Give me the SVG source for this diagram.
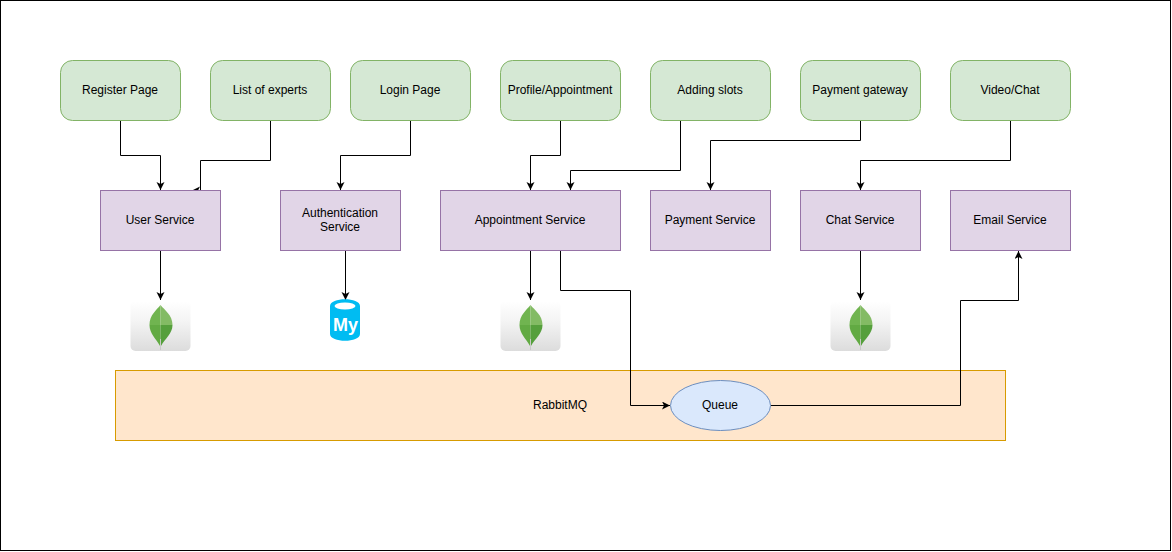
<svg xmlns="http://www.w3.org/2000/svg" width="1172" height="552" viewBox="0 0 1172 552">
<style>
text{font-family:"Liberation Sans",Arial,Helvetica,sans-serif;font-size:12px;fill:#000;text-anchor:middle}
.page{fill:#fff;stroke:#000;stroke-width:1}
.ui{fill:#d5e8d4;stroke:#82b366;stroke-width:1}
.svc{fill:#e1d5e7;stroke:#9673a6;stroke-width:1}
.wire{fill:none;stroke:#000;stroke-width:1;marker-end:url(#arrow)}
</style>
<defs>
<marker id="arrow" markerUnits="userSpaceOnUse" markerWidth="10" markerHeight="10" refX="8" refY="4" orient="auto">
<path d="M0 0L8 4L0 8L2 4Z" fill="#000"/>
</marker>
<linearGradient id="tile" x1="0" y1="0" x2="0" y2="1"><stop offset="0" stop-color="#ffffff"/><stop offset="0.4" stop-color="#f4f4f4"/><stop offset="1" stop-color="#dcdcdc"/></linearGradient>
<g id="mongo">
<rect x="0" y="0" width="60" height="50" rx="5" fill="url(#tile)"/>
<path d="M30 4C26 9 19 14 19 24H30Z" fill="#70b450"/>
<path d="M30 4C34 9 42 14 42 24H30Z" fill="#83bb64"/>
<path d="M19 24C19 33 26 38 29.500 45H30V24Z" fill="#62aa43"/>
<path d="M42 24C42 33 34 38 30.500 45H30V24Z" fill="#559f3c"/>
<path d="M29.500 38H30.500L30.500 49H29.500Z" fill="#c8c8c8"/>
</g>
</defs>
<rect class="page" x="0.500" y="0.500" width="1170" height="550"/>
<g id="rabbitmq"><rect x="115.500" y="370.500" width="890" height="70" fill="#ffe6cc" stroke="#d79b00"/><text x="560" y="409">RabbitMQ</text></g>
<g id="connectors">
<path class="wire" d="M120.500 120.500V155.500H160.500V190"/>
<path class="wire" d="M270.500 120.500V160.500H200.500V190.500H192"/>
<path class="wire" d="M410.500 120.500V155.500H340.500V190"/>
<path class="wire" d="M560.500 120.500V155.500H530.500V190"/>
<path class="wire" d="M680.500 120.500V170.500H570.500V190"/>
<path class="wire" d="M860.500 120.500V140.500H710.500V190"/>
<path class="wire" d="M1010.500 120.500V160.500H860.500V190"/>
<path class="wire" d="M160.500 250.500V300"/>
<path class="wire" d="M345.500 250.500V300"/>
<path class="wire" d="M530.500 250.500V300"/>
<path class="wire" d="M860.500 250.500V300"/>
<path class="wire" d="M560.500 250.500V290.500H630.500V405.500H670"/>
<path class="wire" d="M770.500 405.500H960.500V300.500H1018.500V251"/>
</g>
<g id="register-page"><rect class="ui" x="60.500" y="60.500" width="120" height="60" rx="12"/><text x="120" y="94">Register Page</text></g>
<g id="list-of-experts"><rect class="ui" x="210.500" y="60.500" width="120" height="60" rx="12"/><text x="270" y="94">List of experts</text></g>
<g id="login-page"><rect class="ui" x="350.500" y="60.500" width="120" height="60" rx="12"/><text x="410" y="94">Login Page</text></g>
<g id="profile-appointment"><rect class="ui" x="500.500" y="60.500" width="120" height="60" rx="12"/><text x="560" y="94">Profile/Appointment</text></g>
<g id="adding-slots"><rect class="ui" x="650.500" y="60.500" width="120" height="60" rx="12"/><text x="710" y="94">Adding slots</text></g>
<g id="payment-gateway"><rect class="ui" x="800.500" y="60.500" width="120" height="60" rx="12"/><text x="860" y="94">Payment gateway</text></g>
<g id="video-chat"><rect class="ui" x="950.500" y="60.500" width="120" height="60" rx="12"/><text x="1010" y="94">Video/Chat</text></g>
<g id="user-service"><rect class="svc" x="100.500" y="190.500" width="120" height="60"/><text x="160" y="224">User Service</text></g>
<g id="authentication-service"><rect class="svc" x="280.500" y="190.500" width="120" height="60"/><text x="340" y="217">Authentication</text><text x="340" y="231">Service</text></g>
<g id="appointment-service"><rect class="svc" x="440.500" y="190.500" width="180" height="60"/><text x="530" y="224">Appointment Service</text></g>
<g id="payment-service"><rect class="svc" x="650.500" y="190.500" width="120" height="60"/><text x="710" y="224">Payment Service</text></g>
<g id="chat-service"><rect class="svc" x="800.500" y="190.500" width="120" height="60"/><text x="860" y="224">Chat Service</text></g>
<g id="email-service"><rect class="svc" x="950.500" y="190.500" width="120" height="60"/><text x="1010" y="224">Email Service</text></g>
<g id="mongo-user"><use href="#mongo" x="130.500" y="301"/></g>
<g id="mongo-appointment"><use href="#mongo" x="500.500" y="301"/></g>
<g id="mongo-chat"><use href="#mongo" x="830.500" y="301"/></g>
<g id="mysql">
<path d="M330 306C330 297 360 297 360 306V334C360 343 330 343 330 334Z" fill="#00bcf2"/>
<ellipse cx="345" cy="306" rx="10.500" ry="3.500" fill="#fff"/>
<text x="345.500" y="331" style="font-size:18px;font-weight:bold;fill:#fff">My</text>
</g>
<g id="queue"><ellipse cx="720.500" cy="405.500" rx="50" ry="25" fill="#dae8fc" stroke="#6c8ebf"/><text x="720" y="409">Queue</text></g>
</svg>
